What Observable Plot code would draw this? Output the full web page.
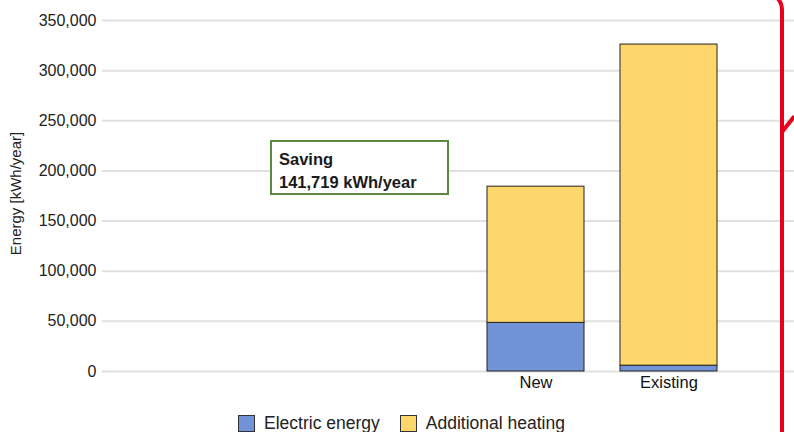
<!DOCTYPE html>
<html><head><meta charset="utf-8">
<script src="https://cdn.jsdelivr.net/npm/d3@7"></script>
<script src="https://cdn.jsdelivr.net/npm/@observablehq/plot@0.6"></script>
<style>
body{margin:0;background:#fff;font-family:"Liberation Sans",Arial,sans-serif;}
#wrap{position:relative;width:794px;height:432px;overflow:hidden;background:#fff;}
#chart{position:absolute;left:0;top:0;}
#note{position:absolute;left:270px;top:140px;border:2px solid #5b8a3c;background:#fff;
  font-weight:bold;font-size:16.5px;color:#1a1a1a;line-height:23px;padding:6px 0 0 7px;box-sizing:border-box;width:179px;height:55px;}
#legend{position:absolute;left:0;top:413px;width:794px;display:flex;justify-content:center;padding-left:9px;box-sizing:border-box;
  font-size:17.5px;color:#222;}
.item{display:flex;align-items:center;margin-right:20px;}
.item:last-child{margin-right:0;}
.sw{width:15px;height:15px;border:1px solid #333;margin-right:9px;}
#redA{position:absolute;left:740px;top:-10px;width:40px;height:470px;border-top:4px solid #e8001c;border-right:4px solid #e8001c;border-top-right-radius:20px;}
#redB{position:absolute;left:782px;top:130px;width:20px;height:4px;background:#e8001c;transform:rotate(-52deg);transform-origin:left center;}
</style></head><body><div id="wrap"><div id="chart"></div></div>
<script>
const categories = ["New", "Existing"];
const series = ["Electric energy", "Additional heating"];
const electric = [48500, 5800];
const heating = [135800, 320219];
const colors = ["#7293d8", "#fdd76b"];
const yTicks = [0, 50000, 100000, 150000, 200000, 250000, 300000, 350000];
const yLabel = "Energy [kWh/year]";
const noteTitle = "Saving";
const noteUnit = "kWh/year";

const data = [];
categories.forEach((c, i) => {
  data.push({cat: c, series: series[0], value: electric[i]});
  data.push({cat: c, series: series[1], value: heating[i]});
});
const totals = categories.map((c, i) => electric[i] + heating[i]);
const saving = totals[1] - totals[0];
const fmt = d3.format(",");

const chart = Plot.plot({
  width: 794, height: 400,
  marginLeft: 102, marginRight: 0, marginTop: 20, marginBottom: 29,
  style: {fontFamily: "Liberation Sans, Arial, sans-serif", fontSize: "16px", color: "#222", background: "transparent"},
  x: {type: "band", domain: categories, range: [450.4, 753.3], padding: 0.2725, label: null},
  y: {domain: [0, 350000], label: null},
  color: {domain: series, range: colors},
  marks: [
    Plot.ruleY(yTicks, {stroke: "#e0e0e0", strokeWidth: 2}),
    Plot.axisY(yTicks, {tickSize: 0, tickPadding: 6, tickFormat: fmt, label: null, fontSize: 16, fill: "#222"}),
    Plot.axisX({tickSize: 0, tickPadding: 5, label: null, fontSize: 16.5, fill: "#111"}),
    Plot.barY(data, {x: "cat", y: "value", fill: "series", stroke: "#222", strokeWidth: 1, order: series}),
    Plot.text([yLabel], {frameAnchor: "left", textAnchor: "middle", lineAnchor: "middle", rotate: -90, dx: -86.5, dy: -2.5, fontSize: 15, fill: "#222"})
  ]
});
const wrap = document.getElementById("wrap");
document.getElementById("chart").appendChild(chart);

const note = document.createElement("div");
note.id = "note";
note.innerHTML = `${noteTitle}<br>${fmt(saving)} ${noteUnit}`;
wrap.appendChild(note);

const legend = document.createElement("div");
legend.id = "legend";
series.forEach((s, i) => {
  const it = document.createElement("div");
  it.className = "item";
  it.innerHTML = `<span class="sw" style="background:${colors[i]}"></span><span>${s}</span>`;
  legend.appendChild(it);
});
wrap.appendChild(legend);

const a = document.createElement("div"); a.id = "redA"; wrap.appendChild(a);
const b = document.createElement("div"); b.id = "redB"; wrap.appendChild(b);
</script>
</body></html>
